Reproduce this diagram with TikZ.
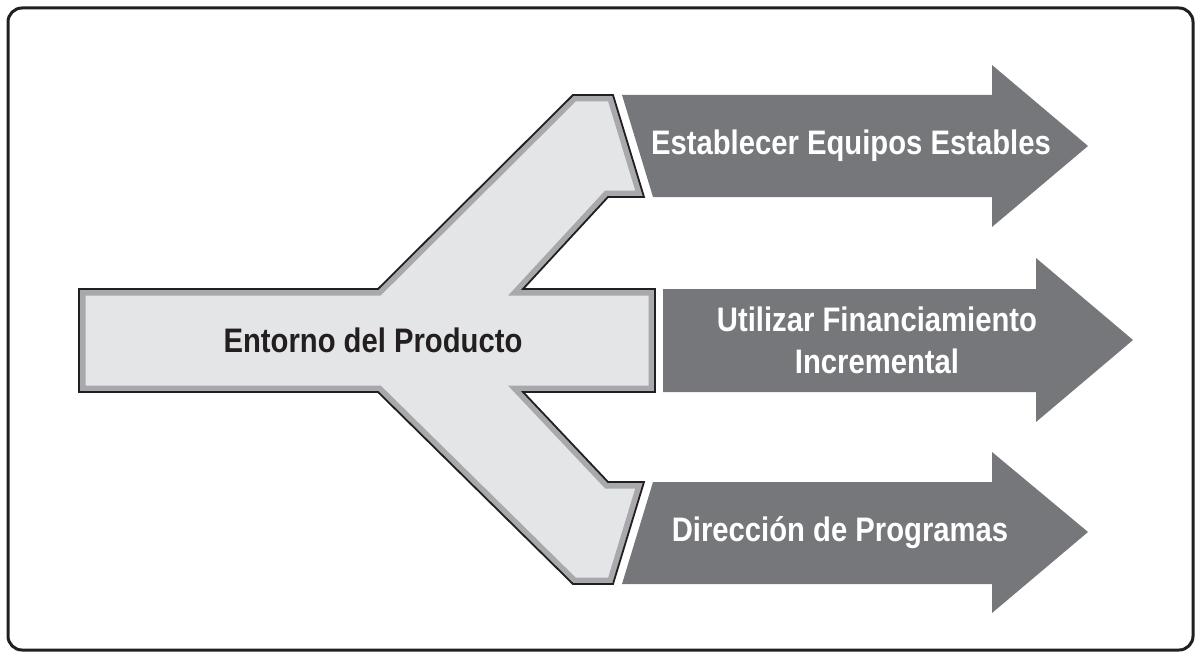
\documentclass[tikz,border=0pt]{standalone}
\usepackage{fontspec}
\setmainfont{Liberation Sans}[FakeStretch=0.86]
\definecolor{ink}{HTML}{231F20}
\definecolor{darkarrow}{HTML}{76777B}
\definecolor{lightfill}{HTML}{E4E5E7}
\definecolor{band}{HTML}{A7A9AC}
\tikzset{
  darkarrowshape/.style={fill=darkarrow, draw=none},
  whitelabel/.style={text=white, font=\fontsize{34}{42}\selectfont\bfseries, align=center, inner sep=0pt},
  blacklabel/.style={text=ink, font=\fontsize{34}{42}\selectfont\bfseries, align=center, inner sep=0pt},
}
\begin{document}
\begin{tikzpicture}[x=1pt,y=-1pt]
\useasboundingbox (0,0) rectangle (1201,658);
% frame
\draw[ink, line width=3pt, rounded corners=14pt] (8,8) rectangle (1193,650);
% light branching shape
\def\lightpath{(79,289) -- (378,289) -- (573,95) -- (613,95) -- (644,197) -- (608,197) -- (523,289) -- (655,289) -- (655,392) -- (523,392) -- (608,482) -- (644,482) -- (613,584) -- (573,584) -- (378,392) -- (79,392) -- cycle}
\begin{scope}
  \clip \lightpath;
  \fill[lightfill] \lightpath;
  \draw[band, line width=13pt, line join=miter] \lightpath;
\end{scope}
\draw[ink, line width=1.8pt, line join=miter] \lightpath;
% dark arrows
\fill[darkarrowshape] (622,95) -- (992,95) -- (992,65) -- (1088,146) -- (992,227) -- (992,197) -- (653,197) -- cycle;
\fill[darkarrowshape] (663,289) -- (1036,289) -- (1036,258) -- (1133,340) -- (1036,422) -- (1036,392) -- (663,392) -- cycle;
\fill[darkarrowshape] (653,482) -- (992,482) -- (992,452) -- (1088,532) -- (992,613) -- (992,584) -- (622,584) -- cycle;
% labels
\node[blacklabel] (entorno) at (373,340) {Entorno del Producto};
\node[whitelabel] (equipos) at (851,146) {Establecer Equipos Estables};
\node[whitelabel] (financ) at (877,340) {Utilizar Financiamiento\\Incremental};
\node[whitelabel] (program) at (840,533) {Dirección de Programas};
\end{tikzpicture}
\end{document}
